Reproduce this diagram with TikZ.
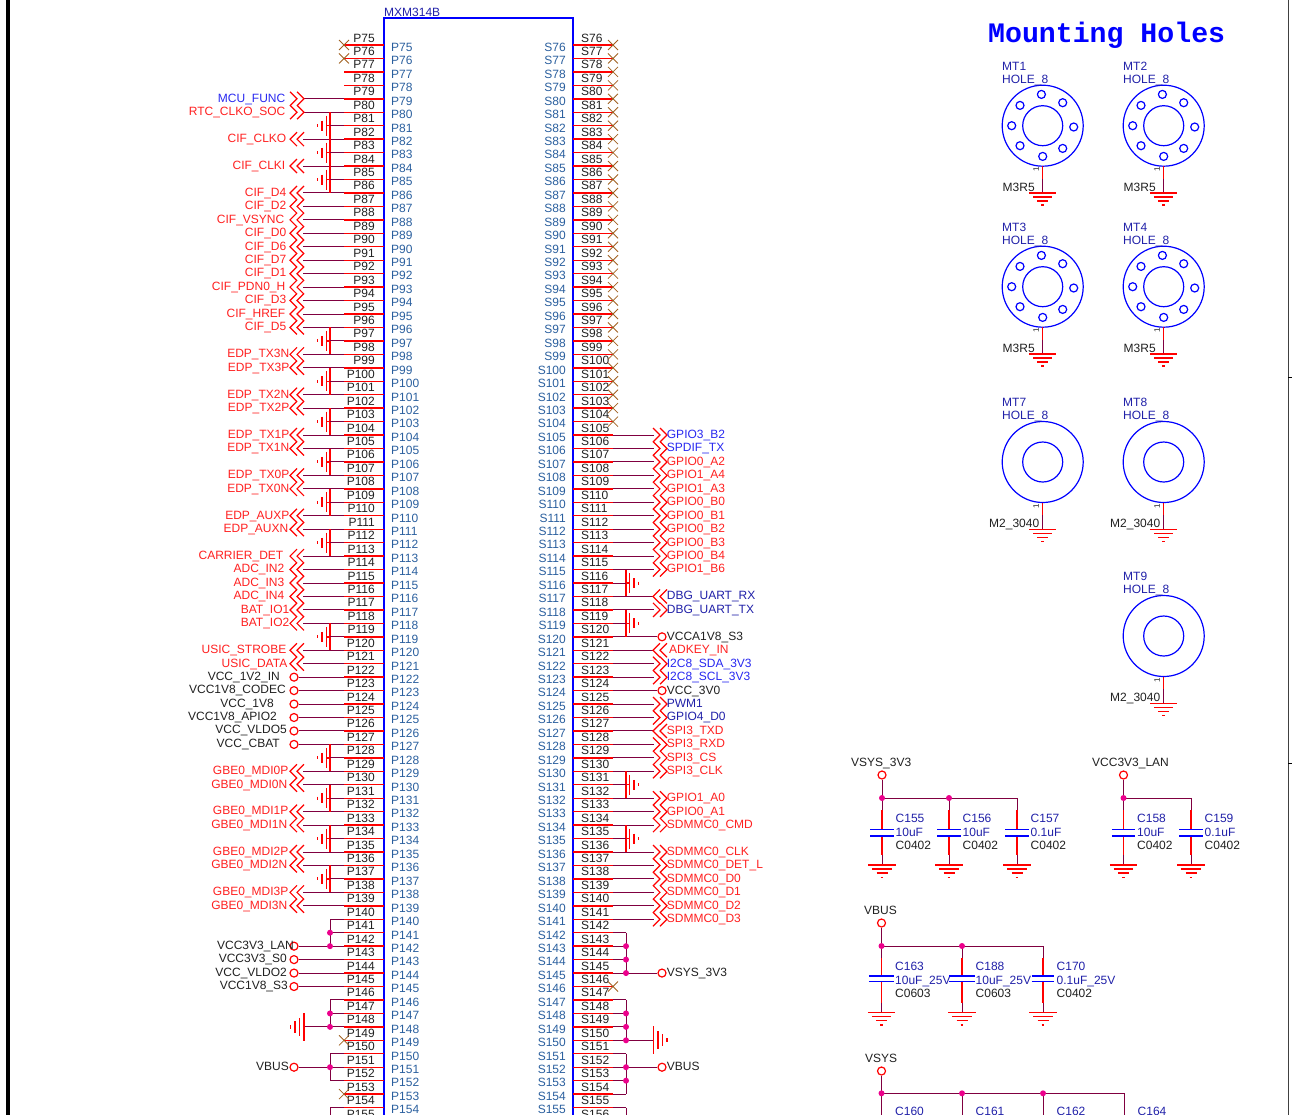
\documentclass[tikz,border=0pt]{standalone}
\usepackage{fontspec}
\setmainfont{Liberation Sans}
\newfontfamily\titlefont{Liberation Mono}
\usetikzlibrary{positioning}

\definecolor{netred}{HTML}{FF2020}
\definecolor{netblue}{HTML}{2828F0}
\definecolor{netnavy}{HTML}{2020A8}
\definecolor{netblack}{HTML}{202020}
\definecolor{pinblue}{HTML}{2A5F9E}
\definecolor{wirecol}{HTML}{800040}
\definecolor{xcol}{HTML}{A06020}

\begin{document}
\begin{tikzpicture}
    [%%%%%%%%%%%%%%%%%%%%%%%%%%%%%%
    x=1pt,y=-1pt,
    declare function={py(\k)=45+(\k-75)*13.45; sy(\k)=45+(\k-76)*13.45;},
    every node/.style={inner sep=0pt,font=\fontsize{12}{12}\selectfont},
    pinline/.style={draw=red,line width=1.4pt},
    wire/.style={draw=wirecol,line width=1pt},
    blueline/.style={draw=blue,line width=1.2pt},
    dot/.style={circle,fill=magenta,minimum size=6pt},
    pwr/.style={circle,draw=red,line width=1.2pt,fill=white,minimum size=8pt},
    partbox/.style={rectangle,blueline,minimum width=189pt,minimum height=1100pt},
    pins/.style={anchor=base east,color=netblack},
    pinname/.style={color=pinblue},
    partname/.style={anchor=base west,color=netnavy},
    plain/.style={anchor=base west,color=netblack},
    pics/chev/.style={code={
        \draw[pinline,line width=1.2pt] (-7*#1,-7) -- (0,0) -- (-7*#1,7);
        \draw[pinline,line width=1.2pt] (0,-7) -- (7*#1,0) -- (0,7);}},
    pics/nc/.style={code={
        \draw[draw=xcol,line width=0.8pt] (-5,-5) -- (5,5) (-5,5) -- (5,-5);}},
    pics/smallgnd/.style={code={
        \draw[pinline] (0,0) -- (#1*3.5,0);
        \draw[pinline] (#1*3.5,-10) -- (#1*3.5,10);
        \draw[pinline] (#1*8,-5) -- (#1*8,5);
        \draw[pinline] (#1*12.5,-1.5) -- (#1*12.5,1.5);}},
    pics/biggnd/.style={code={
        \foreach \d/\h in {0/14,4.5/9,9/6,13.5/2}{
            \draw[pinline] (#1*\d,-\h) -- (#1*\d,\h);}}},
    pics/gnd/.style={code={
        \foreach \d/\h in {0/13.7,4/9.7,8/5.5,12.2/1.3}{
            \draw[pinline] (-\h,\d) -- (\h,\d);}}},
    ]%%%%%%%%%%%%%%%%%%%%%%%%%%%%%%

    \useasboundingbox (0,0) rectangle (1292,1114);
    \clip (0,0) rectangle (1292,1114);

    % sheet border
    \draw[line width=4pt,color=black] (7.5,-2) -- (7.5,1116);
    \draw[line width=1.5pt,color=black!75] (1288.7,-2) -- (1288.7,1116);
    \draw[line width=1pt,color=black] (1288,377) -- (1292,377);
    \draw[line width=1pt,color=black] (1288,763) -- (1292,763);

    % connector body
    \node[partbox] at (478.5,568) (mxm){};
    \node[partname] at (384,16.5) (mxm_text) {MXM314B};

    % left pins
    \foreach \n in {75,...,155}{
        \coordinate (pb\n) at (384,{py(\n)});
        \coordinate (pe\n) at (344,{py(\n)});
        \coordinate (pv\n) at (330,{py(\n)});
        \draw[pinline] (pe\n) -- (pb\n);
        \node[pins] at (375,{py(\n)-3}) (pnum\n) {P\n};
        \ifnum\n<155
            \node[pinname,anchor=base west] at (391,{py(\n)+6.3}) (pname\n) {P\n};
        \fi
    }

    % right pins
    \foreach \n in {76,...,156}{
        \coordinate (sb\n) at (573,{sy(\n)});
        \coordinate (se\n) at (613,{sy(\n)});
        \coordinate (sv\n) at (626,{sy(\n)});
        \draw[pinline] (sb\n) -- (se\n);
        \node[plain] at (581,{sy(\n)-3}) (snum\n) {S\n};
        \ifnum\n<156
            \node[pinname,anchor=base east] at (566,{sy(\n)+6.3}) (sname\n) {S\n};
        \fi
    }

    % left nets
    \foreach \n/\t/\rx/\col/\d in {
        79/MCU\_FUNC/285.5/netblue/1,80/RTC\_CLKO\_SOC/285.5/netred/1,
        82/CIF\_CLKO/286.5/netred/-1,84/CIF\_CLKI/285.5/netred/-1,
        86/CIF\_D4/286.5/netred/-1,87/CIF\_D2/286.5/netred/-1,88/CIF\_VSYNC/284.5/netred/-1,
        89/CIF\_D0/286.5/netred/-1,90/CIF\_D6/286.5/netred/-1,91/CIF\_D7/286.5/netred/-1,
        92/CIF\_D1/286.5/netred/-1,93/CIF\_PDN0\_H/285.5/netred/-1,94/CIF\_D3/286.5/netred/-1,
        95/CIF\_HREF/285.5/netred/-1,96/CIF\_D5/286.5/netred/-1,
        98/EDP\_TX3N/289.5/netred/-1,99/EDP\_TX3P/289.5/netred/-1,
        101/EDP\_TX2N/289.5/netred/-1,102/EDP\_TX2P/289.5/netred/-1,
        104/EDP\_TX1P/289.5/netred/-1,105/EDP\_TX1N/289.5/netred/-1,
        107/EDP\_TX0P/289.5/netred/-1,108/EDP\_TX0N/289.5/netred/-1,
        110/EDP\_AUXP/289.5/netred/-1,111/EDP\_AUXN/288.5/netred/-1,
        113/CARRIER\_DET/283.5/netred/-1,114/ADC\_IN2/284.5/netred/-1,
        115/ADC\_IN3/284.5/netred/-1,116/ADC\_IN4/284.5/netred/-1,
        117/BAT\_IO1/289.5/netred/-1,118/BAT\_IO2/289.5/netred/-1,
        120/USIC\_STROBE/286.5/netred/-1,121/USIC\_DATA/287.5/netred/-1,
        129/GBE0\_MDI0P/288.5/netred/-1,130/GBE0\_MDI0N/287.5/netred/-1,
        132/GBE0\_MDI1P/288.5/netred/-1,133/GBE0\_MDI1N/287.5/netred/-1,
        135/GBE0\_MDI2P/288.5/netred/-1,136/GBE0\_MDI2N/287.5/netred/-1,
        138/GBE0\_MDI3P/288.5/netred/-1,139/GBE0\_MDI3N/287.5/netred/-1}{
        \coordinate (lc\n) at (303,{py(\n)});
        \draw[wire] (lc\n) -- (pe\n);
        \pic at (297,{py(\n)}) {chev=\d};
        \node[anchor=base east,color=\col] at (\rx,{py(\n)+3.3}) (lnet\n) {\t};
    }

    % left power
    \foreach \n/\t/\rx in {
        122/VCC\_1V2\_IN/280,123/VCC1V8\_CODEC/286,124/VCC\_1V8/274,
        125/VCC1V8\_APIO2/277,126/VCC\_VLDO5/287,127/VCC\_CBAT/280,
        142/VCC3V3\_LAN/294,143/VCC3V3\_S0/287,144/VCC\_VLDO2/287,
        145/VCC1V8\_S3/288,151/VBUS/289}{
        \node[pwr] at (294,{py(\n)}) (lpwr\n){};
        \draw[wire] (lpwr\n) -- (pe\n);
        \node[pins] at (\rx,{py(\n)+3}) (lnet\n) {\t};
    }

    % left ground groups
    \foreach \a/\g/\b in {80/81/86,96/97/98,99/100/101,102/103/104,105/106/107,
        108/109/110,111/112/113,118/119/120,127/128/129,130/131/132,133/134/135,136/137/138}{
        \draw[pinline] (pv\a) -- (pv\b);
    }
    \foreach \n in {81,83,85,97,100,103,106,109,112,119,128,131,134,137}{
        \draw[wire] (pv\n) -- (pe\n);
        \pic at (pv\n) {smallgnd=-1};
    }

    % left tied pins
    \foreach \n in {140,141,146,147,150,152,154}{
        \draw[wire] (pv\n) -- (pe\n);
    }
    \draw[wire] (pv140) -- (pv142);
    \draw[wire] (pv146) -- (pv148);
    \draw[wire] (pv150) -- (pv152);
    \draw[wire] (pv154) -- (pv155);
    \coordinate (lgnd) at (304,{py(148)});
    \draw[wire] (lgnd) -- (pe148);
    \pic at (lgnd) {biggnd=-1};
    \foreach \n in {141,142,147,148,151}{
        \node[dot] at (pv\n) (pdot\n){};
    }
    \foreach \n in {75,76,149,153}{
        \pic at (pe\n) {nc};
    }

    % right nets
    \foreach \n/\t/\tx/\col/\d in {
        105/GPIO3\_B2/666.7/netblue/1,106/SPDIF\_TX/666.7/netblue/1,
        107/GPIO0\_A2/666.7/netred/1,108/GPIO1\_A4/666.7/netred/1,
        109/GPIO1\_A3/666.7/netred/1,110/GPIO0\_B0/666.7/netred/1,
        111/GPIO0\_B1/666.7/netred/1,112/GPIO0\_B2/666.7/netred/1,
        113/GPIO0\_B3/666.7/netred/1,114/GPIO0\_B4/666.7/netred/1,
        115/GPIO1\_B6/666.7/netred/1,117/DBG\_UART\_RX/666.7/netnavy/-1,
        118/DBG\_UART\_TX/666.7/netnavy/1,121/ADKEY\_IN/669/netred/-1,
        122/I2C8\_SDA\_3V3/666.7/netblue/1,123/I2C8\_SCL\_3V3/666.7/netblue/1,
        125/PWM1/666.7/netnavy/1,126/GPIO4\_D0/666.7/netnavy/1,
        127/SPI3\_TXD/666.7/netred/-1,128/SPI3\_RXD/666.7/netred/1,
        129/SPI3\_CS/666.7/netred/1,130/SPI3\_CLK/666.7/netred/1,
        132/GPIO1\_A0/666.7/netred/1,133/GPIO0\_A1/666.7/netred/1,
        134/SDMMC0\_CMD/666.7/netred/1,136/SDMMC0\_CLK/666.7/netred/1,
        137/SDMMC0\_DET\_L/666.7/netred/1,138/SDMMC0\_D0/666.7/netred/1,
        139/SDMMC0\_D1/666.7/netred/1,140/SDMMC0\_D2/666.7/netred/1,
        141/SDMMC0\_D3/666.7/netred/1}{
        \coordinate (rc\n) at (654,{sy(\n)});
        \draw[wire] (se\n) -- (rc\n);
        \pic at (660,{sy(\n)}) {chev=\d};
        \node[anchor=base west,color=\col] at (\tx,{sy(\n)+3.4}) (rnet\n) {\t};
    }

    % right power
    \foreach \n/\t in {120/VCCA1V8\_S3,124/VCC\_3V0,145/VSYS\_3V3,152/VBUS}{
        \node[pwr] at (662,{sy(\n)}) (rpwr\n){};
        \draw[wire] (se\n) -- (rpwr\n);
        \node[plain] at (666.7,{sy(\n)+3.4}) (rnet\n) {\t};
    }

    % right ground groups
    \foreach \a/\b in {115/117,118/120,130/132,134/136}{
        \draw[pinline] (sv\a) -- (sv\b);
    }
    \foreach \n in {116,119,131,135}{
        \draw[wire] (se\n) -- (sv\n);
        \pic at (sv\n) {smallgnd=1};
    }

    % right tied pins
    \foreach \n in {142,143,144,147,148,149,151,153,154,155}{
        \draw[wire] (se\n) -- (sv\n);
    }
    \draw[wire] (sv142) -- (sv145);
    \draw[wire] (sv147) -- (sv150);
    \draw[wire] (sv151) -- (sv154);
    \draw[wire] (sv155) -- (sv156);
    \coordinate (rgnd) at (653.3,{sy(150)});
    \draw[wire] (se150) -- (rgnd);
    \pic at (rgnd) {biggnd=1};
    \foreach \n in {143,144,145,148,149,150,152,153}{
        \node[dot] at (sv\n) (sdot\n){};
    }
    \foreach \n in {76,...,104,146}{
        \pic at (se\n) {nc};
    }

    % mounting holes
    \node[anchor=base west,color=blue,font=\titlefont\bfseries\fontsize{28.2}{28.2}\selectfont] at (988,42.5) (holes_title) {Mounting Holes};
    \foreach \mt/\x/\y/\foot/\fx/\ring in {
        MT1/1042.7/125.7/M3R5/1002.5/1,MT2/1163.7/125.7/M3R5/1123.5/1,
        MT3/1042.7/286.7/M3R5/1002.5/1,MT4/1163.7/286.7/M3R5/1123.5/1,
        MT7/1042.7/462/M2\_3040/989/0,MT8/1163.7/462/M2\_3040/1110/0,
        MT9/1163.7/636/M2\_3040/1110/0}{
        \node[circle,blueline,minimum size=81pt] at (\x,\y) (\mt){};
        \node[circle,blueline,minimum size=40pt] at (\x,\y) (\mt_in){};
        \ifnum\ring=1
            \foreach \dx/\dy in {-1.3/-31.3,20/-23,31/1.3,20/22.7,0/30.7,-22.7/20,-31/0,-22.7/-20.3}{
                \node[circle,blueline,minimum size=8pt] at ({\x+\dx},{\y+\dy}) {};
            }
        \fi
        \node[partname] at ({\x-40.7},{\y-55.7}) (\mt_ref) {\mt};
        \node[partname] at ({\x-40.7},{\y-42.7}) (\mt_val) {HOLE\_8};
        \node[plain] at (\fx,{\y+65.5}) (\mt_fp) {\foot};
        \node[color=netblack,rotate=90,font=\fontsize{8}{8}\selectfont] at ({\x-6.5},{\y+44}) (\mt_pin) {1};
        \coordinate (\mt_a) at (\x,{\y+40.5});
        \coordinate (\mt_b) at (\x,{\y+53});
        \coordinate (\mt_g) at (\x,{\y+67.2});
        \draw[pinline] (\mt_a) -- (\mt_b);
        \draw[wire] (\mt_b) -- (\mt_g);
        \pic at (\mt_g) {gnd};
    }

    % rails
    \foreach \v/\t/\tx/\tyy/\x/\cy/\ry/\ex in {
        vsysa/VSYS\_3V3/851/762/882/775/798/1017,
        vlan/VCC3V3\_LAN/1092/762/1123.5/775/798/1191,
        vbus/VBUS/864/910/881.5/923/946/1043,
        vsys/VSYS/865/1058/881.5/1071/1093.3/1124}{
        \node[plain] at (\tx,{\tyy+4.3}) (\v_text) {\t};
        \node[pwr] at (\x,\cy) (\v_pwr){};
        \coordinate (\v_a) at (\x,\ry);
        \coordinate (\v_b) at (\ex,\ry);
        \draw[wire] (\v_pwr) -- (\v_a);
        \draw[wire] (\v_a) -- (\v_b);
    }

    % capacitors
    \foreach \c/\v/\f/\x/\ry/\pa/\pb/\hw/\gy/\ty in {
        C155/10uF/C0402/882/798/829.3/836/11.7/865/818,
        C156/10uF/C0402/949/798/829.3/836/11.7/865/818,
        C157/0.1uF/C0402/1017/798/829.3/836/11.7/865/818,
        C158/10uF/C0402/1123.5/798/829.3/836/11.7/865/818,
        C159/0.1uF/C0402/1191/798/829.3/836/11.7/865/818,
        C163/10uF\_25V/C0603/881.5/946/976/981.7/12.7/1012.7/966,
        C188/10uF\_25V/C0603/962/946/976/981.7/12.7/1012.7/966,
        C170/0.1uF\_25V/C0402/1043/946/976/981.7/11.3/1012.7/966}{
        \coordinate (\c_r) at (\x,\ry);
        \coordinate (\c_m) at (\x,{\ry+12});
        \coordinate (\c_a) at (\x,\pa);
        \coordinate (\c_b) at (\x,\pb);
        \coordinate (\c_n) at (\x,{\gy-10});
        \coordinate (\c_g) at (\x,\gy);
        \draw[wire] (\c_r) -- (\c_m);
        \draw[pinline] (\c_m) -- (\c_a);
        \draw[pinline] (\c_b) -- (\c_n);
        \draw[wire] (\c_n) -- (\c_g);
        \draw[blueline] ({\x-\hw},\pa) -- ({\x+\hw},\pa);
        \draw[blueline] ({\x-\hw},\pb) -- ({\x+\hw},\pb);
        \pic at (\c_g) {gnd};
        \node[partname] at ({\x+13.5},{\ty+4.3}) (\c_ref) {\c};
        \node[partname] at ({\x+13.5},{\ty+18.3}) (\c_val) {\v};
        \node[plain] at ({\x+13.5},{\ty+31.3}) (\c_fp) {\f};
    }

    % last row runs off the sheet
    \foreach \c/\x in {C160/881.5,C161/962,C162/1043,C164/1124}{
        \coordinate (\c_r) at (\x,1093.3);
        \coordinate (\c_m) at (\x,1120);
        \draw[wire] (\c_r) -- (\c_m);
        \node[partname] at ({\x+13.5},1115.3) (\c_ref) {\c};
    }

    % dots on the rails
    \foreach \x/\y in {882/798,949/798,1123.5/798,881.5/946,962/946,881.5/1093.3,962/1093.3,1043/1093.3}{
        \node[dot] at (\x,\y) {};
    }
\end{tikzpicture}
\end{document}
